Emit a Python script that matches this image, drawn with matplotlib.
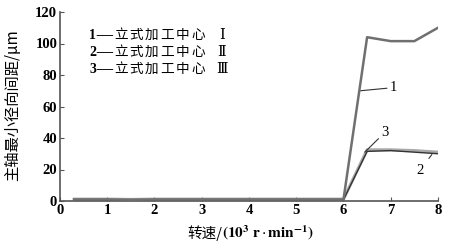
import matplotlib
matplotlib.use("Agg")
import matplotlib.pyplot as plt
from matplotlib.font_manager import FontProperties

plt.rcParams["mathtext.fontset"] = "stix"

speed = [0.3, 1.0, 1.5, 2.0, 2.5, 3.0, 3.5, 4.0, 4.5, 5.0, 5.5, 6.0, 6.5, 7.0, 7.5, 8.0]
gap1 = [1.0, 1.0, 0.8, 1.0, 1.0, 1.0, 1.0, 1.0, 1.0, 1.0, 1.0, 1.0, 104.0, 101.5, 101.5, 110.0]
gap2 = [0.8, 0.8, 0.6, 0.8, 0.8, 0.8, 0.8, 0.8, 0.8, 0.8, 0.8, 0.8, 31.5, 32.0, 31.0, 30.0]
gap3 = [1.2, 1.2, 1.0, 1.2, 1.2, 1.2, 1.2, 1.2, 1.2, 1.2, 1.2, 1.2, 32.5, 32.5, 32.0, 31.0]
legend_nums = ["1", "2", "3"]
legend_name = "立式加工中心"
legend_roman = ["Ⅰ", "Ⅱ", "Ⅲ"]
xticks = [0, 1, 2, 3, 4, 5, 6, 7, 8]
yticks = [0, 20, 40, 60, 80, 100, 120]

bold_serif = FontProperties(family=["Liberation Serif", "DejaVu Serif"], weight="bold", size=10.5)
num_fp = FontProperties(family=["Liberation Serif", "DejaVu Serif"], weight="bold", size=10)
ann_fp = FontProperties(family=["Liberation Serif", "DejaVu Serif"], size=10.5)
cjk = ["Noto Sans CJK SC", "DejaVu Sans"]

fig = plt.figure(figsize=(4.59, 2.5), dpi=100)
ax = fig.add_axes([0.1307, 0.196, 0.8235, 0.756])

ax.plot(speed, gap3, color="#a8a8a8", lw=2.2, zorder=2)
ax.plot(speed, gap2, color="#333333", lw=1.0, zorder=3)
ax.plot(speed, gap1, color="#707070", lw=1.8, zorder=4)

ax.set_xlim(0, 8)
ax.set_ylim(0, 120)
ax.set_xticks(xticks)
ax.set_yticks(yticks)
ax.set_xticklabels([str(v) for v in xticks], fontproperties=bold_serif)
ax.set_yticklabels([str(v) for v in yticks], fontproperties=bold_serif)
for s in ["top", "right"]:
    ax.spines[s].set_visible(False)
for s in ["left", "bottom"]:
    ax.spines[s].set_color("#555555")
    ax.spines[s].set_linewidth(1.2)
ax.tick_params(direction="in", length=3, width=0.8, colors="#555555", labelcolor="black", pad=2)

# axis labels
fig.text(0.027, 0.58, "主轴最小径向间距/μm", family=cjk, fontsize=11,
         rotation=90, ha="center", va="center")
fig.text(0.4837, 0.068, "转速/", family=cjk, fontsize=10.5, ha="right", va="center")
fig.text(0.4837, 0.068, r"$\mathbf{(10^{3}\ r}\cdot\mathbf{min^{-1})}$", fontsize=11,
         ha="left", va="center")

# legend-like text block
step = 0.041
for i, (n, r) in enumerate(zip(legend_nums, legend_roman)):
    y = 0.878 - i * 0.09
    ax.text(0.077, y, n, transform=ax.transAxes, fontproperties=num_fp,
            va="center", ha="left")
    ax.text(0.0925, y, "\u2014", transform=ax.transAxes, family=["DejaVu Serif"],
            fontsize=13, va="center", ha="left")
    for k, ch in enumerate(legend_name):
        ax.text(0.161 + k * step, y, ch, transform=ax.transAxes, family=cjk,
                fontsize=9.8, va="center", ha="center")
    ax.text(0.428, y, r, transform=ax.transAxes, family=["Liberation Serif", "DejaVu Serif"],
            fontsize=10.5, va="center", ha="center")

ax.annotate("1", xy=(6.36, 70), xytext=(6.98, 72), fontproperties=ann_fp,
            va="center", ha="left",
            arrowprops=dict(arrowstyle="-", color="#333333", lw=0.8, shrinkA=0, shrinkB=0))
ax.annotate("3", xy=(6.45, 31), xytext=(6.8, 39.5), fontproperties=ann_fp,
            va="bottom", ha="left",
            arrowprops=dict(arrowstyle="-", color="#333333", lw=0.8, shrinkA=0, shrinkB=0))
ax.annotate("2", xy=(7.87, 29.5), xytext=(7.62, 19.5), fontproperties=ann_fp,
            va="center", ha="center",
            arrowprops=dict(arrowstyle="-", color="#333333", lw=0.8, shrinkA=3, shrinkB=0))

fig.savefig("out.png", dpi=100)
